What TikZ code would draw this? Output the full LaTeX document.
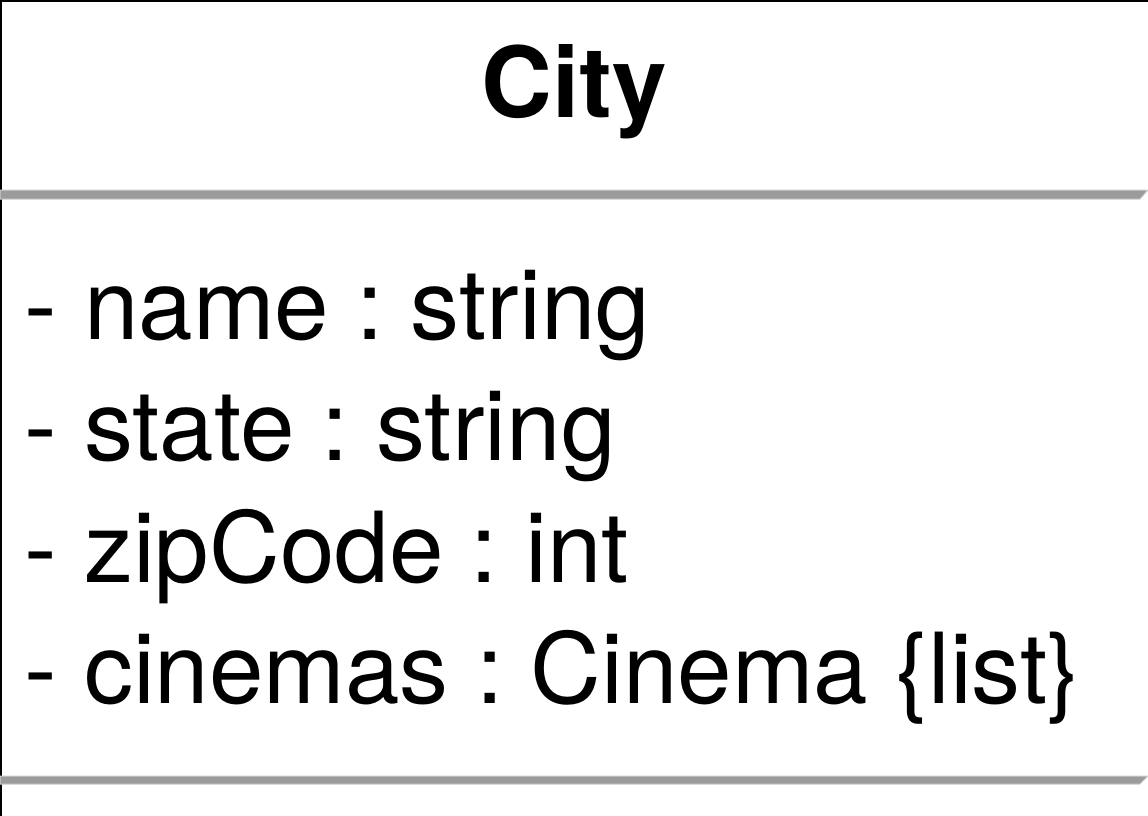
\documentclass[tikz,border=0pt]{standalone}
\usepackage{fontspec}
\setmainfont{TeX Gyre Heros}
\usepackage{tikz}
\frenchspacing

\definecolor{sepgray}{RGB}{155,155,155}
\definecolor{sepedge}{RGB}{205,205,205}

\tikzset{
    classname/.style={font=\fontsize{98}{118}\selectfont\bfseries, anchor=base, inner sep=0pt},
    attr/.style={font=\fontsize{98}{118}\selectfont, anchor=base west, inner sep=0pt},
    sep/.style={fill=sepgray, draw=sepedge, line width=1pt}
}

\begin{document}
\begin{tikzpicture}[x=1pt, y=-1pt]
    \useasboundingbox (0,0) rectangle (1148,816);

    % box edges
    \draw[line width=2.5pt] (1,816) -- (1,1) -- (1148,1);

    % compartment separators
    \draw[sep] (0,190) -- (1148,190) -- (1140,199) -- (0,199) -- cycle;
    \draw[sep] (0,776) -- (1148,776) -- (1140,784) -- (0,784) -- cycle;

    \node[classname] (title) at (574,117) {City};

    \node[attr] (name) at (24,339) {- name : string};
    \node[attr] (state) at (24,460) {- state : string};
    \node[attr] (zip) at (24,582) {- zipCode : int};
    \node[attr] (cinemas) at (24,703) {- cinemas : Cinema \{list\}};
\end{tikzpicture}
\end{document}
